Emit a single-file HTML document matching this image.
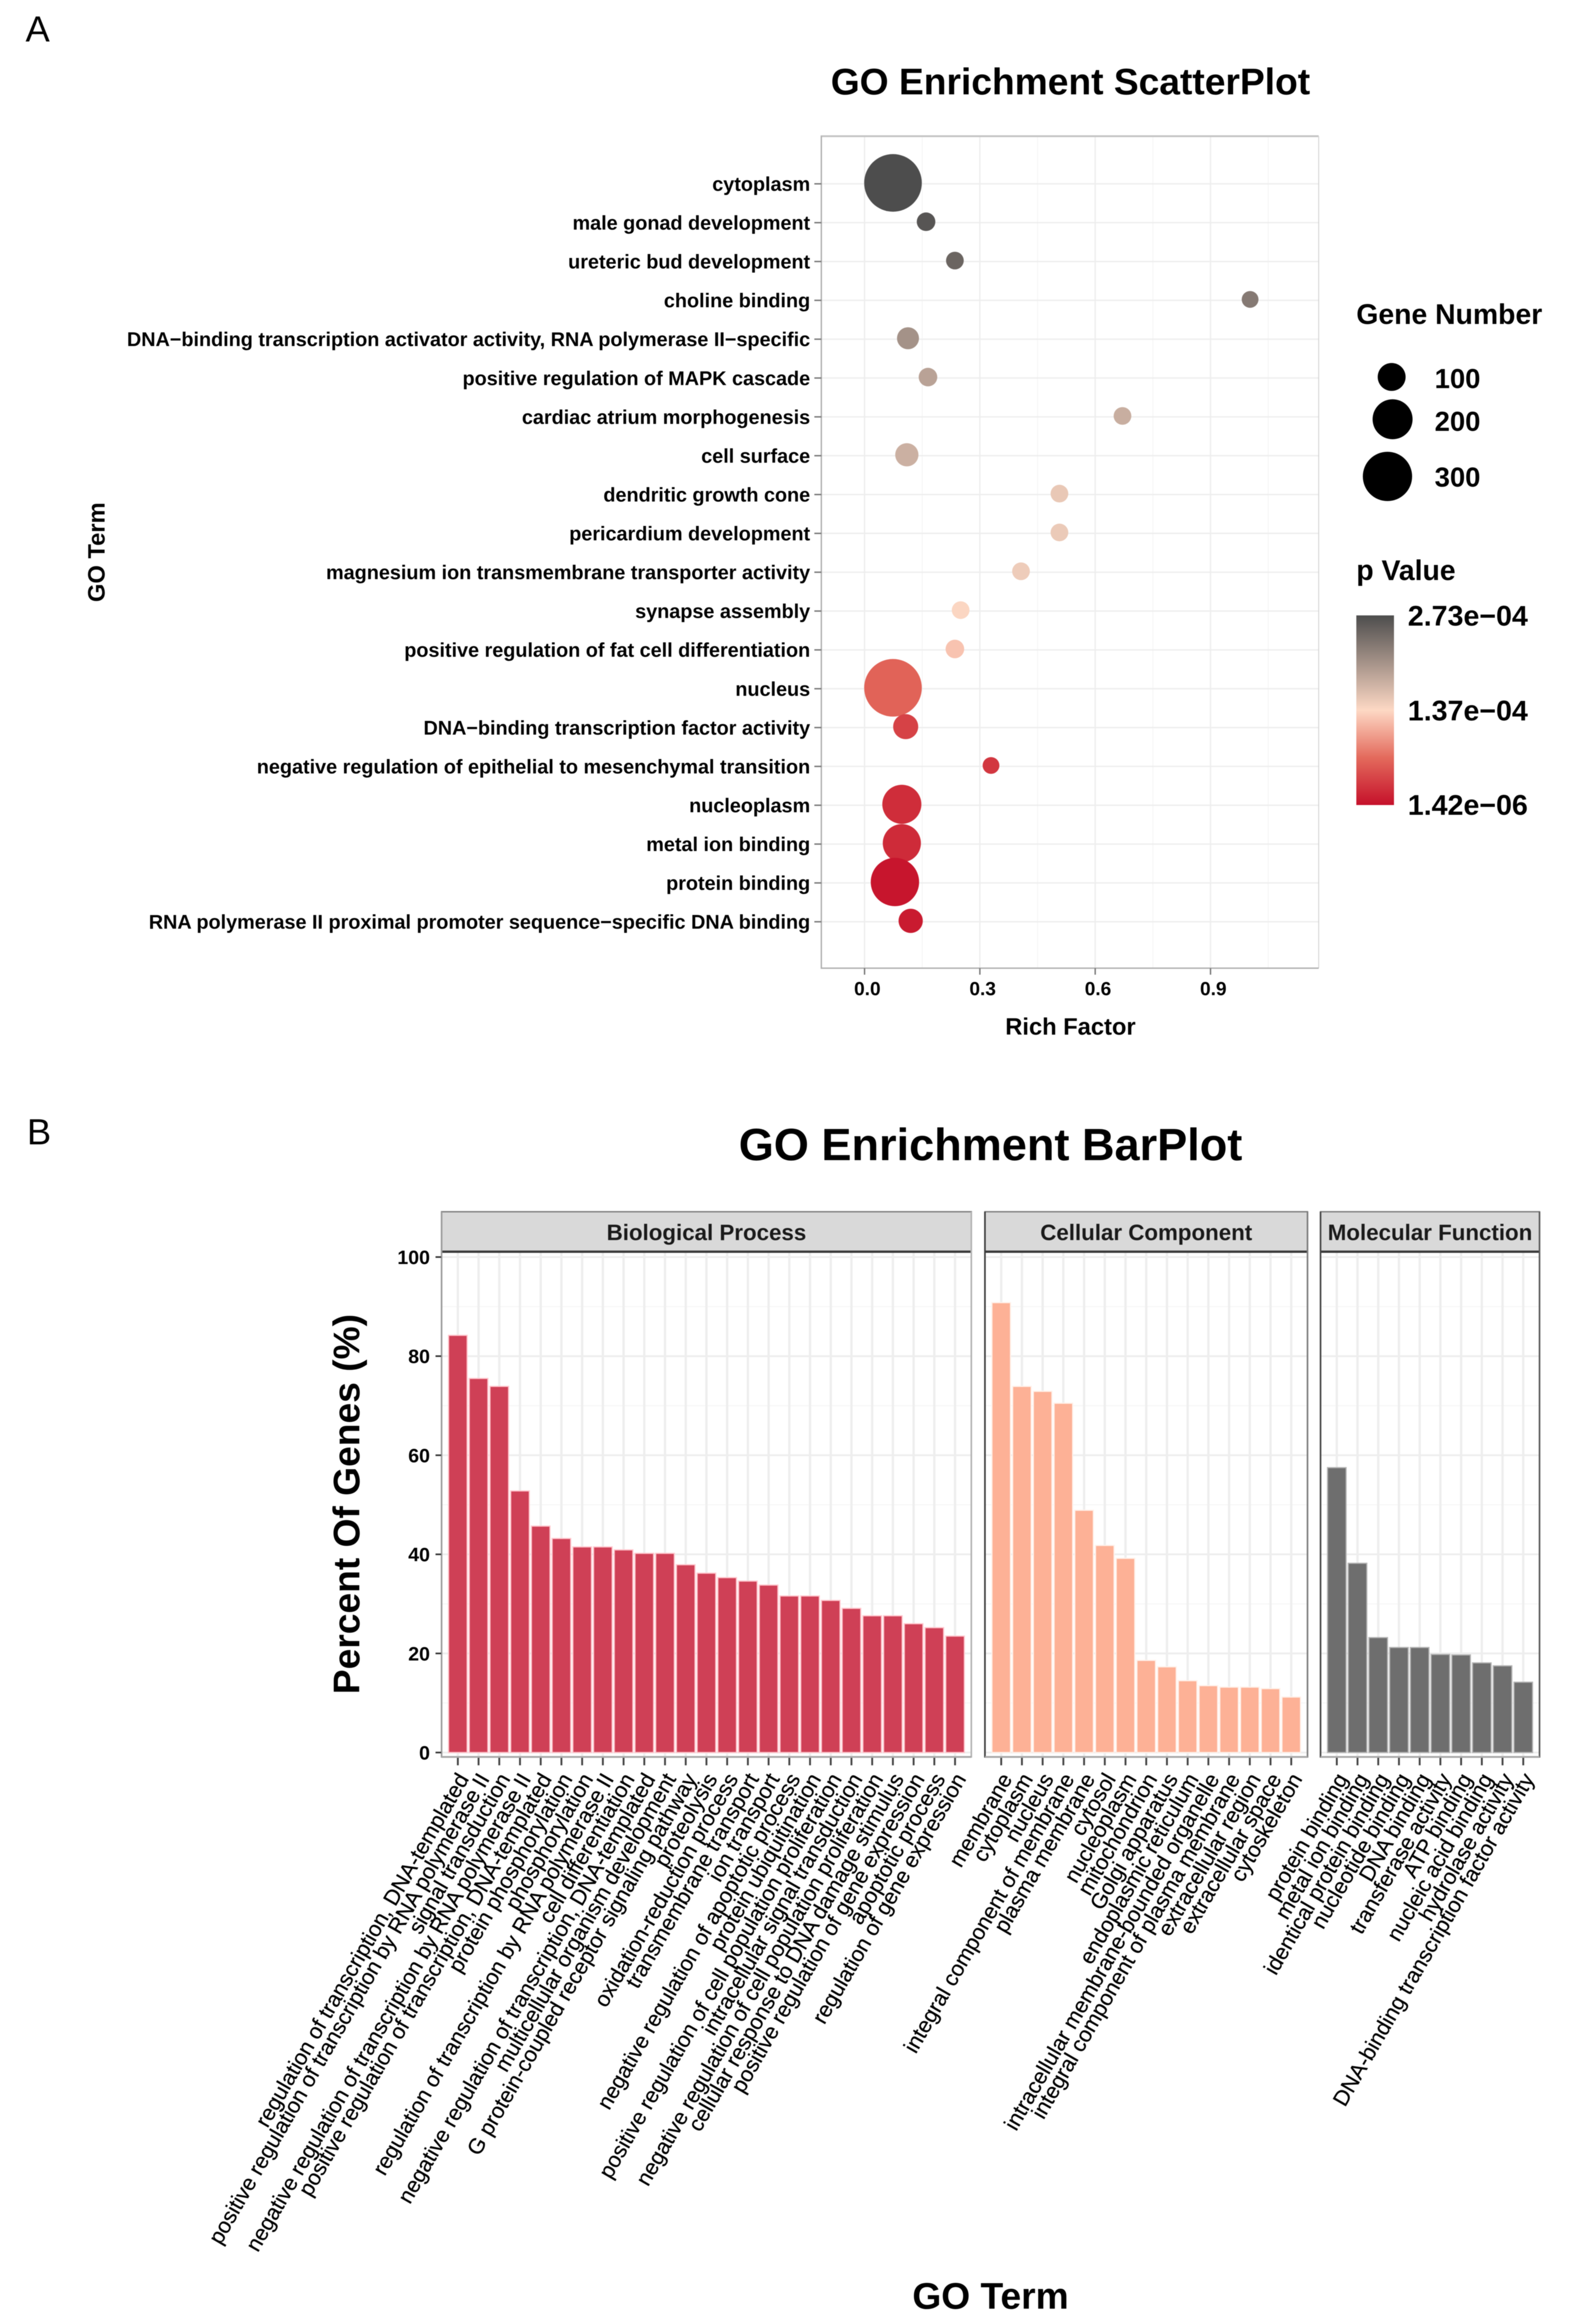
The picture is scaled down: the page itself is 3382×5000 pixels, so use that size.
<!DOCTYPE html>
<html lang="en">
<head>
<meta charset="utf-8">
<title>GO Enrichment</title>
<style>
html,body{margin:0;padding:0;background:#fff;}
#figure{display:block;width:3382px;height:5000px;background:#fff;filter:blur(0.7px);}
text{font-family:"Liberation Sans",Arial,sans-serif;fill:#000;}
.b{font-weight:700;}
</style>
</head>
<body>
<svg id="figure" xmlns="http://www.w3.org/2000/svg" width="3382" height="5000" viewBox="0 0 3382 5000">
  <defs>
    <linearGradient id="pGradient" x1="0" y1="1" x2="0" y2="0">
      <stop offset="0" stop-color="#c5102a"/>
      <stop offset="0.25" stop-color="#e36a5c"/>
      <stop offset="0.5" stop-color="#fdd8c4"/>
      <stop offset="1" stop-color="#4d4d4d"/>
    </linearGradient>
  </defs>
  <rect x="0" y="0" width="3382" height="5000" fill="#ffffff"/>

  <text x="55" y="89" font-size="78">A</text>
  <text x="58" y="2462" font-size="78">B</text>

  <g id="scatter">
    <text class="b" x="2303" y="203" font-size="80" text-anchor="middle">GO Enrichment ScatterPlot</text>
    <text class="b" x="2303" y="2226" font-size="51" text-anchor="middle">Rich Factor</text>
    <text class="b" x="0" y="0" font-size="51" text-anchor="middle" transform="translate(225 1188) rotate(-90)">GO Term</text>
  </g>

  <g id="size-legend">
    <text class="b" x="2918" y="697" font-size="61">Gene Number</text>
    <circle cx="2994" cy="811" r="30" fill="#000"/>
    <circle cx="2996" cy="902" r="43" fill="#000"/>
    <circle cx="2985" cy="1025" r="53" fill="#000"/>
    <text class="b" x="3185" y="835" font-size="59" text-anchor="end">100</text>
    <text class="b" x="3185" y="927" font-size="59" text-anchor="end">200</text>
    <text class="b" x="3185" y="1047" font-size="59" text-anchor="end">300</text>
  </g>

  <g id="color-legend">
    <text class="b" x="2918" y="1248" font-size="61">p Value</text>
    <rect x="2918" y="1324" width="81" height="408" fill="url(#pGradient)"/>
    <text class="b" x="3287" y="1346" font-size="61.5" text-anchor="end">2.73e−04</text>
    <text class="b" x="3287" y="1550" font-size="61.5" text-anchor="end">1.37e−04</text>
    <text class="b" x="3287" y="1753" font-size="61.5" text-anchor="end">1.42e−06</text>
  </g>

  <g id="bars">
    <text class="b" x="2131" y="2496" font-size="97" text-anchor="middle">GO Enrichment BarPlot</text>
    <text class="b" x="0" y="0" font-size="80" text-anchor="middle" transform="translate(773 3236) rotate(-90)">Percent Of Genes (%)</text>
    <text class="b" x="2131" y="4967" font-size="80" text-anchor="middle">GO Term</text>
  </g>
</svg>

<script>
/* ---------- Scatter data (top to bottom) ---------- */
const goTerms = [
  "cytoplasm",
  "male gonad development",
  "ureteric bud development",
  "choline binding",
  "DNA−binding transcription activator activity, RNA polymerase II−specific",
  "positive regulation of MAPK cascade",
  "cardiac atrium morphogenesis",
  "cell surface",
  "dendritic growth cone",
  "pericardium development",
  "magnesium ion transmembrane transporter activity",
  "synapse assembly",
  "positive regulation of fat cell differentiation",
  "nucleus",
  "DNA−binding transcription factor activity",
  "negative regulation of epithelial to mesenchymal transition",
  "nucleoplasm",
  "metal ion binding",
  "protein binding",
  "RNA polymerase II proximal promoter sequence−specific DNA binding"
];
const richFactor = [0.074,0.160,0.235,1.003,0.113,0.165,0.671,0.110,0.507,0.507,0.407,0.250,0.235,0.074,0.107,0.329,0.097,0.097,0.079,0.120];
const geneCount  = [413,43,39,35,60,43,39,67,39,39,39,39,43,413,78,35,190,181,291,73];
const pValue     = [27.3e-5,26.5e-5,25e-5,23e-5,20.6e-5,19e-5,17.8e-5,17.6e-5,15.3e-5,15.1e-5,14.9e-5,13.9e-5,12.4e-5,6.4e-5,3.9e-5,3.1e-5,2.3e-5,2.2e-5,0.55e-5,0.95e-5];
const richTicks  = [0.0,0.3,0.6,0.9];
const richMinorTicks = [0.15,0.45,0.75,1.05];

/* ---------- Bar data ---------- */
const bpTerms = [
  "regulation of transcription, DNA-templated",
  "positive regulation of transcription by RNA polymerase II",
  "signal transduction",
  "negative regulation of transcription by RNA polymerase II",
  "positive regulation of transcription, DNA-templated",
  "protein phosphorylation",
  "phosphorylation",
  "regulation of transcription by RNA polymerase II",
  "cell differentiation",
  "negative regulation of transcription, DNA-templated",
  "multicellular organism development",
  "G protein-coupled receptor signaling pathway",
  "proteolysis",
  "oxidation-reduction process",
  "transmembrane transport",
  "ion transport",
  "negative regulation of apoptotic process",
  "protein ubiquitination",
  "positive regulation of cell population proliferation",
  "intracellular signal transduction",
  "negative regulation of cell population proliferation",
  "cellular response to DNA damage stimulus",
  "positive regulation of gene expression",
  "apoptotic process",
  "regulation of gene expression"
];
const bpPercent = [84.2,75.5,73.9,52.8,45.7,43.2,41.5,41.5,40.9,40.2,40.2,37.9,36.2,35.3,34.6,33.8,31.6,31.6,30.7,29.1,27.6,27.6,26.0,25.2,23.5];
const ccTerms = [
  "membrane",
  "cytoplasm",
  "nucleus",
  "integral component of membrane",
  "plasma membrane",
  "cytosol",
  "nucleoplasm",
  "mitochondrion",
  "Golgi apparatus",
  "endoplasmic reticulum",
  "intracellular membrane-bounded organelle",
  "integral component of plasma membrane",
  "extracellular region",
  "extracellular space",
  "cytoskeleton"
];
const ccPercent = [90.8,73.9,72.9,70.5,48.9,41.8,39.2,18.6,17.3,14.5,13.5,13.2,13.2,12.9,11.2];
const mfTerms = [
  "protein binding",
  "metal ion binding",
  "identical protein binding",
  "nucleotide binding",
  "DNA binding",
  "transferase activity",
  "ATP binding",
  "nucleic acid binding",
  "hydrolase activity",
  "DNA-binding transcription factor activity"
];
const mfPercent = [57.5,38.2,23.2,21.2,21.2,19.8,19.7,18.1,17.5,14.2];
const percentTicks = [0,20,40,60,80,100];
const percentMinorTicks = [10,30,50,70,90];

/* ---------- Scales ---------- */
const pMin = 1.42e-6, pMax = 2.73e-4;
function richX(v){ return 1860 + v * 827; }
function rowY(i){ return 395.5 + i * 83.56; }
function dotRadius(n){ return 3.05 * Math.sqrt(n); }
function percentY(v){ return 3770.5 - v * 10.66; }
function hex2(v){ const s = Math.round(v).toString(16); return s.length < 2 ? "0" + s : s; }
function mix(a, b, u){
  return "#" + hex2(a[0] + (b[0]-a[0])*u) + hex2(a[1] + (b[1]-a[1])*u) + hex2(a[2] + (b[2]-a[2])*u);
}
function pColor(p){
  const t = Math.max(0, Math.min(1, (p - pMin) / (pMax - pMin)));
  const low = [197,16,42], lowMid = [227,106,92], mid = [253,216,196], high = [77,77,77];
  if (t < 0.25) return mix(low, lowMid, t / 0.25);
  if (t < 0.5) return mix(lowMid, mid, (t - 0.25) / 0.25);
  return mix(mid, high, (t - 0.5) / 0.5);
}

/* ---------- Helpers ---------- */
const NS = "http://www.w3.org/2000/svg";
function make(parent, tag, attrs){
  const el = document.createElementNS(NS, tag);
  for (const k in attrs) el.setAttribute(k, attrs[k]);
  parent.appendChild(el);
  return el;
}
function hline(parent, x1, x2, y, color, w){
  return make(parent, "line", {x1:x1, x2:x2, y1:y, y2:y, stroke:color, "stroke-width":w});
}
function vline(parent, x, y1, y2, color, w){
  return make(parent, "line", {x1:x, x2:x, y1:y1, y2:y2, stroke:color, "stroke-width":w});
}

/* ---------- Scatter plot ---------- */
(function drawScatter(){
  const root = document.getElementById("scatter");
  const L = 1767, R = 2837, T = 293, B = 2083;

  richMinorTicks.forEach(function(v){
    const el = vline(root, richX(v), T, B, "#f5f5f5", 2);
    
    
  });
  richTicks.forEach(function(v){
    const el = vline(root, richX(v), T, B, "#eeeeee", 3);
    
    
  });
  goTerms.forEach(function(term, i){
    const el = hline(root, L, R, rowY(i), "#eeeeee", 3);
    
    
  });

  const frameTop = hline(root, L - 1.5, R, T, "#c4c4c4", 4);
  
  
  const frameRight = vline(root, R, T, B, "#d4d4d4", 2);
  
  
  const frameLeft = vline(root, L, T, B + 1.5, "#b0b0b0", 3);
  
  
  const frameBottom = hline(root, L - 1.5, R, B, "#b0b0b0", 3);
  
  

  goTerms.forEach(function(term, i){
    const tick = hline(root, 1752, L, rowY(i), "#777777", 3);
    
    
    const label = make(root, "text", {x:1743, y:rowY(i) + 15, "font-size":42.6, "text-anchor":"end", "class":"b"});
    label.textContent = term;
    
    
  });

  richTicks.forEach(function(v){
    const tick = vline(root, richX(v), B, B + 14, "#777777", 3);
    
    
    const label = make(root, "text", {x:richX(v) + 6, y:2141, "font-size":41, "text-anchor":"middle", "class":"b"});
    label.textContent = v.toFixed(1);
    
    
  });

  goTerms.forEach(function(term, i){
    const dot = make(root, "circle", {cx:richX(richFactor[i]), cy:rowY(i) - 2, r:dotRadius(geneCount[i]), fill:pColor(pValue[i])});
    
    
  });
})();

/* ---------- Faceted bar plot ---------- */
const bandStep = 44.57;
const bandPad = 35;
function bandCenter(left, i){ return left + bandPad + i * bandStep; }

function drawFacet(facetName, title, terms, values, left, fill, halo, sideLeft, sideRight){
  const root = document.getElementById("bars");
  const right = left + 2 * bandPad + (terms.length - 1) * bandStep;
  const T = 2693, B = 3780, stripTop = 2607;
  const g = make(root, "g", {});
  
  

  percentMinorTicks.forEach(function(v){
    const el = hline(g, left, right, percentY(v), "#f5f5f5", 2);
    
    
  });
  percentTicks.forEach(function(v){
    const el = hline(g, left, right, percentY(v), "#eeeeee", 4);
    
    
  });
  terms.forEach(function(term, i){
    const el = vline(g, bandCenter(left, i), T, B, "#eeeeee", 5);
    
    
  });

  values.forEach(function(v, i){
    const c = bandCenter(left, i);
    const bar = make(g, "rect", {x:c - 20, y:percentY(v), width:40, height:percentY(0) - percentY(v), fill:fill, stroke:halo, "stroke-width":2.5});
    
    
  });

  const strip = make(g, "rect", {x:left, y:stripTop, width:right - left, height:T - stripTop, fill:"#d9d9d9"});
  
  
  const stripTitle = make(g, "text", {x:(left + right) / 2, y:2668, "font-size":48, "text-anchor":"middle", "class":"b"});
  stripTitle.textContent = title;
  stripTitle.style.fill = "#1a1a1a";
  
  

  const top = hline(g, left - 1.5, right + 1.5, stripTop, "#808080", 3);
  
  
  const stripLine = hline(g, left, right, T, "#3a3a3a", 5);
  
  
  const leftEdge = vline(g, left, stripTop, B + 1.5, sideLeft, 3.5);
  
  
  const rightEdge = vline(g, right, stripTop, B + 1.5, sideRight, 3.5);
  
  
  const bottomEdge = hline(g, left, right, B, "#a8a8a8", 4);
  
  

  terms.forEach(function(term, i){
    const c = bandCenter(left, i);
    const tick = vline(g, c, B + 2, B + 18, "#444444", 4);
    
    
    const ax = c + 25, ay = 3827;
    const label = make(g, "text", {x:ax, y:ay, "font-size":46.7, "text-anchor":"end", transform:"rotate(-60 " + ax + " " + ay + ")", stroke:"#000", "stroke-width":0.5});
    label.textContent = term;
    
    
  });
}

drawFacet("biological-process-facet", "Biological Process", bpTerms, bpPercent, 950, "#cf4056", "#ffc6cd", "#9a9a9a", "#b4b4b4");
drawFacet("cellular-component-facet", "Cellular Component", ccTerms, ccPercent, 2119, "#fdb196", "#fff1ea", "#3c3c3c", "#7d7d7d");
drawFacet("molecular-function-facet", "Molecular Function", mfTerms, mfPercent, 2841, "#6e6e6e", "#b4b4b4", "#444444", "#5a5a5a");

(function drawPercentAxis(){
  const root = document.getElementById("bars");
  percentTicks.forEach(function(v){
    const tick = hline(root, 937, 949, percentY(v), "#333333", 3.5);
    
    
    const label = make(root, "text", {x:925, y:percentY(v) + 15, "font-size":42, "text-anchor":"end", "class":"b"});
    label.textContent = String(v);
    
    
  });
})();
</script>
</body>
</html>
